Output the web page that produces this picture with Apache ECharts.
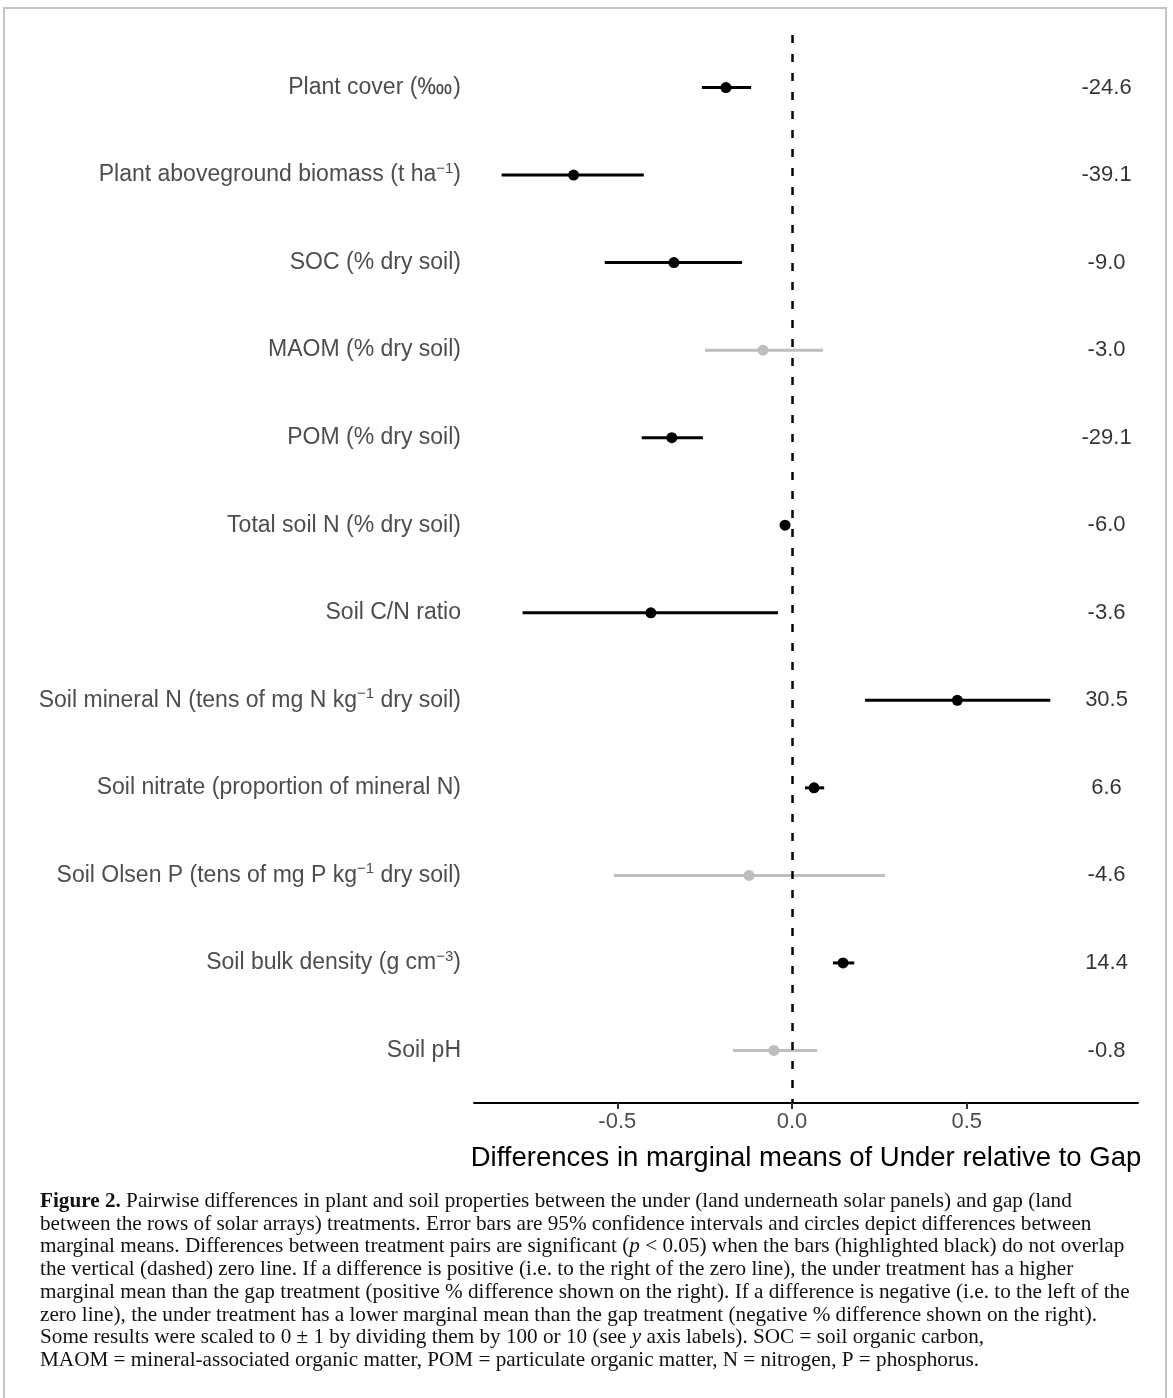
<!DOCTYPE html>
<html>
<head>
<meta charset="utf-8">
<script src="https://cdn.jsdelivr.net/npm/echarts@6/dist/echarts.min.js"></script>
<style>
html,body{margin:0;padding:0;background:#fff;}
#chart{width:1173px;height:1398px;}
</style>
</head>
<body>
<div id="chart"></div>
<script>
// ---- data ----
const categories = [
  "Plant cover (‱)",
  "Plant aboveground biomass (t ha{sup|−1})",
  "SOC (% dry soil)",
  "MAOM (% dry soil)",
  "POM (% dry soil)",
  "Total soil N (% dry soil)",
  "Soil C/N ratio",
  "Soil mineral N (tens of mg N kg{sup|−1} dry soil)",
  "Soil nitrate (proportion of mineral N)",
  "Soil Olsen P (tens of mg P kg{sup|−1} dry soil)",
  "Soil bulk density (g cm{sup|−3})",
  "Soil pH"
];
const estimate = [-0.189, -0.625, -0.338, -0.083, -0.344, -0.020, -0.404, 0.473, 0.063, -0.123, 0.146, -0.052];
const lower    = [-0.258, -0.831, -0.536, -0.249, -0.430, -0.030, -0.771, 0.209, 0.037, -0.510, 0.117, -0.169];
const upper    = [-0.117, -0.424, -0.143,  0.089, -0.255, -0.008, -0.040, 0.739, 0.092,  0.266, 0.178,  0.072];
const significant = [true, true, true, false, true, true, true, true, true, false, true, false];
const pctDiff  = ["-24.6", "-39.1", "-9.0", "-3.0", "-29.1", "-6.0", "-3.6", "30.5", "6.6", "-4.6", "14.4", "-0.8"];
const pctLabelX = 0.9;
const xTicks = [-0.5, 0.0, 0.5];
const xTitle = "Differences in marginal means of Under relative to Gap";
const captionLines = [
  "{b|Figure 2.} Pairwise differences in plant and soil properties between the under (land underneath solar panels) and gap (land",
  "between the rows of solar arrays) treatments. Error bars are 95% confidence intervals and circles depict differences between",
  "marginal means. Differences between treatment pairs are significant ({i|p} < 0.05) when the bars (highlighted black) do not overlap",
  "the vertical (dashed) zero line. If a difference is positive (i.e. to the right of the zero line), the under treatment has a higher",
  "marginal mean than the gap treatment (positive % difference shown on the right). If a difference is negative (i.e. to the left of the",
  "zero line), the under treatment has a lower marginal mean than the gap treatment (negative % difference shown on the right).",
  "Some results were scaled to 0 ± 1 by dividing them by 100 or 10 (see {i|y} axis labels). SOC = soil organic carbon,",
  "MAOM = mineral-associated organic matter, POM = particulate organic matter, N = nitrogen, P = phosphorus."
];

// ---- build ----
const BLACK = '#000000', GREY = '#bebebe';
const SANS = 'Liberation Sans, Arial, sans-serif';
const rowIdx = categories.map((_, i) => i);
const barData = rowIdx.map(i => ({value: [lower[i], upper[i], i], itemStyle: {color: significant[i] ? BLACK : GREY}}));
const pointData = rowIdx.map(i => ({value: [estimate[i], i], itemStyle: {color: significant[i] ? BLACK : GREY, opacity: 1}}));
const pctData = rowIdx.map(i => ({value: [pctLabelX, i], name: pctDiff[i]}));

const chart = echarts.init(document.getElementById('chart'), null, {renderer: 'canvas'});

const CAP = 21.2;
const captionGraphics = captionLines.map((t, k) => ({
  type: 'text',
  left: 40,
  top: 1191 + k * 22.7,
  style: {
    text: t,
    font: CAP + 'px "Liberation Serif", "DejaVu Serif", serif',
    fill: '#111',
    rich: {
      b: {fontWeight: 'bold', fontFamily: 'Liberation Serif', fontSize: CAP, fill: '#111'},
      i: {fontStyle: 'italic', fontFamily: 'Liberation Serif', fontSize: CAP, fill: '#111'}
    }
  }
}));

chart.setOption({
  animation: false,
  backgroundColor: '#fff',
  grid: {left: 474, right: 35, top: 35, bottom: 295},
  xAxis: {
    type: 'value',
    min: -0.91, max: 0.99,
    axisLine: {show: true, onZero: false, lineStyle: {color: '#000', width: 2}},
    axisTick: {show: true, length: 6, lineStyle: {color: '#333', width: 2}, customValues: xTicks},
    axisLabel: {
      customValues: xTicks,
      fontSize: 22, color: '#4d4d4d', fontFamily: SANS, margin: 8,
      formatter: v => v.toFixed(1)
    },
    splitLine: {show: false},
    name: xTitle,
    nameLocation: 'middle',
    nameGap: 41,
    nameTextStyle: {fontSize: 27.5, color: '#000', fontFamily: SANS}
  },
  yAxis: {
    type: 'value',
    min: -0.6, max: 11.6,
    inverse: true,
    axisLine: {show: false},
    axisTick: {show: false},
    splitLine: {show: false},
    axisLabel: {
      customValues: rowIdx,
      margin: 13,
      fontSize: 23, color: '#4d4d4d', fontFamily: SANS,
      lineHeight: 28,
      formatter: v => categories[Math.round(v)],
      rich: {
        sup: {fontSize: 15, color: '#4d4d4d', fontFamily: SANS, verticalAlign: 'top', lineHeight: 15}
      }
    }
  },
  series: [
    {
      type: 'custom',
      name: 'ci',
      data: barData,
      encode: {x: [0, 1], y: 2},
      renderItem: (params, api) => {
        const p1 = api.coord([api.value(0), api.value(2)]);
        const p2 = api.coord([api.value(1), api.value(2)]);
        return {
          type: 'line',
          shape: {x1: p1[0], y1: p1[1], x2: p2[0], y2: p2[1]},
          style: {stroke: api.visual('color'), lineWidth: 3}
        };
      },
      z: 2
    },
    {
      type: 'scatter',
      name: 'est',
      data: pointData,
      symbol: 'circle',
      symbolSize: 11,
      z: 3,
      markLine: {
        silent: true,
        symbol: 'none',
        label: {show: false},
        lineStyle: {color: '#000', type: [8, 11], width: 2.5},
        data: [{xAxis: 0}]
      }
    },
    {
      type: 'scatter',
      name: 'pct',
      data: pctData,
      symbolSize: 2,
      itemStyle: {color: 'rgba(0,0,0,0)'},
      label: {
        show: true, position: 'inside',
        formatter: p => p.name,
        fontSize: 22, color: '#000', fontFamily: SANS
      },
      z: 4
    }
  ],
  graphic: [
    {
      type: 'rect',
      shape: {x: 4, y: 8, width: 1162, height: 1400},
      style: {fill: 'none', stroke: '#c4c4c4', lineWidth: 2},
      silent: true
    }
  ].concat(captionGraphics)
});
</script>
</body>
</html>
